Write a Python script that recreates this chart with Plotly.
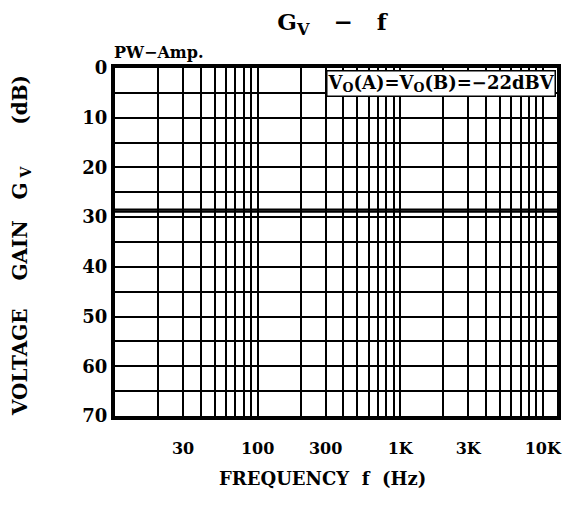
import plotly.graph_objects as go

# ---- data ----
freq_hz = [10, 20, 50, 100, 200, 500, 1000, 2000, 5000, 10000, 12600]
gain_a_db = [28.5, 28.5, 28.5, 28.5, 28.5, 28.5, 28.5, 28.5, 28.5, 28.5, 28.5]
gain_b_db = [28.9, 28.9, 28.9, 28.9, 28.9, 28.9, 28.9, 28.9, 28.9, 28.9, 28.9]

x_tick_vals = [30, 100, 300, 1000, 3000, 10000]
x_tick_text = ["30", "100", "300", "1K", "3K", "10K"]
y_tick_vals = [0, 10, 20, 30, 40, 50, 60, 70]
y_tick_text = ["0", "10", "20", "30", "40", "50", "60", "70"]

FONT = "DejaVu Serif"

fig = go.Figure()
for g in (gain_a_db, gain_b_db):
    fig.add_trace(go.Scatter(x=freq_hz, y=g, mode="lines",
                             line=dict(color="black", width=2.2),
                             showlegend=False, hoverinfo="skip"))

grid = dict(gridcolor="black", gridwidth=1.8)

fig.update_layout(
    width=569, height=507,
    margin=dict(l=115, r=7, t=68, b=91),
    paper_bgcolor="white", plot_bgcolor="white",
    font=dict(family=FONT, color="black", size=17, weight="bold"),
    title=dict(text="G<sub>V</sub>   −   f", x=332 / 569, xanchor="center",
               y=1 - 22 / 507, yanchor="middle", yref="container",
               font=dict(family=FONT, size=23, color="black", weight="bold")),
    xaxis=dict(
        type="log", range=[1, 4.1],
        tickmode="array", tickvals=x_tick_vals, ticktext=x_tick_text,
        ticks="", ticklabelstandoff=15,
        showgrid=True, **grid,
        minor=dict(dtick="D1", showgrid=True, ticks="", **grid),
        showline=True, linecolor="black", linewidth=4, mirror=True,
        zeroline=False,
        tickfont=dict(family=FONT, size=16, weight="bold"),
    ),
    yaxis=dict(
        range=[70, 0],
        tickmode="array", tickvals=y_tick_vals, ticktext=y_tick_text,
        ticks="", showgrid=True, **grid,
        minor=dict(dtick=5, showgrid=True, ticks="", **grid),
        showline=True, linecolor="black", linewidth=4, mirror=True,
        zeroline=False,
        tickfont=dict(family=FONT, size=18, weight="bold"),
    ),
    annotations=[
        dict(text="V<sub>O</sub>(A)=V<sub>O</sub>(B)=−22dBV",
             xref="paper", yref="paper", x=1, y=1, xanchor="right", yanchor="top",
             xshift=-1, yshift=-2, showarrow=False, bgcolor="white",
             bordercolor="black", borderwidth=1.5, borderpad=0,
             font=dict(family=FONT, size=18, weight="bold")),
        dict(text="PW−Amp.", xref="paper", yref="paper", x=0, y=1,
             xanchor="left", yanchor="bottom", xshift=-3, yshift=4,
             showarrow=False, font=dict(family=FONT, size=16, weight="bold")),
        dict(text="FREQUENCY  f  (Hz)", xref="paper", yref="paper",
             x=(325 - 115) / 447, y=0, xanchor="center", yanchor="middle",
             yshift=-(478 - 416), showarrow=False,
             font=dict(family=FONT, size=18, weight="bold")),
        dict(text="VOLTAGE    GAIN   G<sub> V</sub>      (dB)", textangle=-90,
             xref="paper", yref="paper", x=(20 - 115) / 447, y=0.5,
             xanchor="center", yanchor="middle", yshift=-4, showarrow=False,
             font=dict(family=FONT, size=20, weight="bold")),
    ],
)

fig.write_html("out.html", config={"displayModeBar": False},
               post_script="document.body.style.margin='0';"
                           "document.body.style.padding='0';")
